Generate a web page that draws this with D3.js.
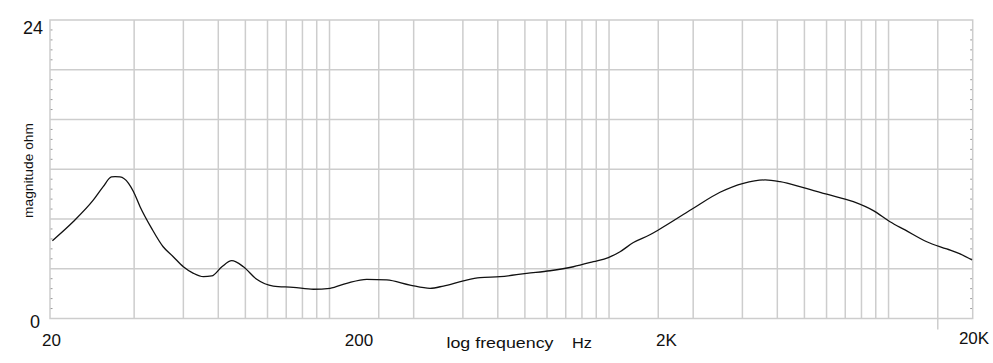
<!DOCTYPE html>
<html>
<head>
<meta charset="utf-8">
<script src="https://cdn.jsdelivr.net/npm/d3@7"></script>
<style>
  html, body { margin: 0; padding: 0; background: #fff; }
  svg { display: block; }
  text { font-family: "Liberation Sans", Arial, sans-serif; fill: #111; }
</style>
</head>
<body>
<div id="chart"></div>
<script>
// ---- data ----
const freqs = [10.2, 12.1, 14.3, 15.5, 16.6, 17.1, 17.8, 19.1, 19.9, 21.0, 23.1, 25.4, 27.6, 30.0, 32.6, 35.4, 37.9, 41.2, 44.7, 49.2, 54.9, 62.9, 74.2, 87.5, 100.4, 115.2, 135.9, 160.2, 194.1, 228.9, 255.5, 301.1, 345.5, 407.4, 507.6, 615.0, 745.3, 878.9, 994.3, 1095, 1222, 1394, 1501, 1976, 2495, 3024, 3615, 4091, 4958, 6010, 7483, 8824, 10120, 11455, 13700, 16150, 18030, 19900];
const magnitude = [6.26, 7.78, 9.53, 10.60, 11.38, 11.40, 11.38, 10.87, 10.19, 8.99, 7.25, 5.77, 4.97, 4.16, 3.63, 3.36, 3.42, 4.16, 4.65, 4.16, 3.15, 2.61, 2.51, 2.35, 2.43, 2.83, 3.15, 3.10, 2.69, 2.43, 2.61, 3.02, 3.28, 3.36, 3.63, 3.84, 4.16, 4.57, 4.90, 5.37, 6.11, 6.71, 7.12, 8.78, 10.15, 10.87, 11.14, 11.00, 10.52, 9.99, 9.39, 8.67, 7.78, 7.12, 6.17, 5.59, 5.19, 4.70];
const gridFreqs = [20, 30, 40, 50, 60, 70, 80, 90, 100, 150, 200, 300, 400, 500, 600, 700, 800, 900, 1000, 1500, 2000, 3000, 4000, 5000, 6000, 7000, 8000, 9000, 10000, 15000];
const xTickLabels = ["20", "200", "2K", "20K"];
const yGridValues = [4, 8, 12, 16, 20];
const yTickLabels = ["24", "0"];
const yTickValues = [24, 0];
const freqDomain = [10, 20000];
const magDomain = [0, 24];

// ---- layout ----
const W = 993, H = 363;
const L = 50, R = 972.7, T = 20, B = 318.5;

const svg = d3.select("#chart").append("svg").attr("width", W).attr("height", H);

const x = d3.scaleLog().domain(freqDomain).range([L, R]);
const y = d3.scaleLinear().domain(magDomain).range([B, T]);
const xLab = d3.scalePoint().domain(xTickLabels).range([51.5, 974]);

const gridColor = "#cdcdcd";

// vertical grid
svg.append("g").selectAll("line").data(gridFreqs).join("line")
  .attr("x1", d => x(d)).attr("x2", d => x(d))
  .attr("y1", T).attr("y2", B)
  .attr("stroke", gridColor).attr("stroke-width", 1.5);

// tick below axis at 15K
svg.append("line")
  .attr("x1", x(15000)).attr("x2", x(15000))
  .attr("y1", B).attr("y2", B + 11)
  .attr("stroke", gridColor).attr("stroke-width", 1.5);

// horizontal grid
svg.append("g").selectAll("line").data(yGridValues).join("line")
  .attr("x1", L).attr("x2", R)
  .attr("y1", d => y(d)).attr("y2", d => y(d))
  .attr("stroke", gridColor).attr("stroke-width", 1.5);

// minor ticks inside left/right borders
const minor = d3.range(0, 24.01, 0.8).filter(v => Math.abs(v / 4 - Math.round(v / 4)) > 0.01);
const mg = svg.append("g");
mg.selectAll(".ml").data(minor).join("line")
  .attr("x1", L).attr("x2", L + 2.5)
  .attr("y1", d => y(d)).attr("y2", d => y(d))
  .attr("stroke", "#999").attr("stroke-width", 1);
mg.selectAll(".mr").data(minor).join("line")
  .attr("x1", R - 2.5).attr("x2", R)
  .attr("y1", d => y(d)).attr("y2", d => y(d))
  .attr("stroke", "#999").attr("stroke-width", 1);

// frame
svg.append("rect")
  .attr("x", L).attr("y", T).attr("width", R - L).attr("height", B - T)
  .attr("fill", "none").attr("stroke", gridColor).attr("stroke-width", 1.5);

// curve
const pts = freqs.map((f, i) => [f, magnitude[i]]);
const line = d3.line().x(d => x(d[0])).y(d => y(d[1])).curve(d3.curveMonotoneX);
svg.append("path").attr("d", line(pts))
  .attr("fill", "none").attr("stroke", "#111").attr("stroke-width", 1.3);

// x tick labels
svg.append("g").selectAll("text").data(xTickLabels).join("text")
  .attr("x", d => xLab(d))
  .attr("y", d => d === "20K" ? 343.5 : 346)
  .attr("text-anchor", "middle")
  .attr("font-size", 17)
  .text(d => d);

// y tick labels
svg.append("g").selectAll("text").data(yTickLabels).join("text")
  .attr("x", (d, i) => i === 0 ? 43 : 40)
  .attr("y", (d, i) => y(yTickValues[i]) + (i === 0 ? 13.5 : 9))
  .attr("text-anchor", "end")
  .attr("font-size", 18)
  .text(d => d);

// axis titles
svg.append("text").attr("x", 446.5).attr("y", 347.5)
  .attr("font-size", 15).attr("textLength", 107).attr("lengthAdjust", "spacingAndGlyphs")
  .text("log frequency");
svg.append("text").attr("x", 572).attr("y", 347.5)
  .attr("font-size", 15).attr("textLength", 20).attr("lengthAdjust", "spacingAndGlyphs")
  .text("Hz");
svg.append("text")
  .attr("transform", "translate(33,170.5) rotate(-90)")
  .attr("text-anchor", "middle")
  .attr("font-size", 12.5).attr("textLength", 95).attr("lengthAdjust", "spacingAndGlyphs")
  .text("magnitude ohm");
</script>
</body>
</html>
